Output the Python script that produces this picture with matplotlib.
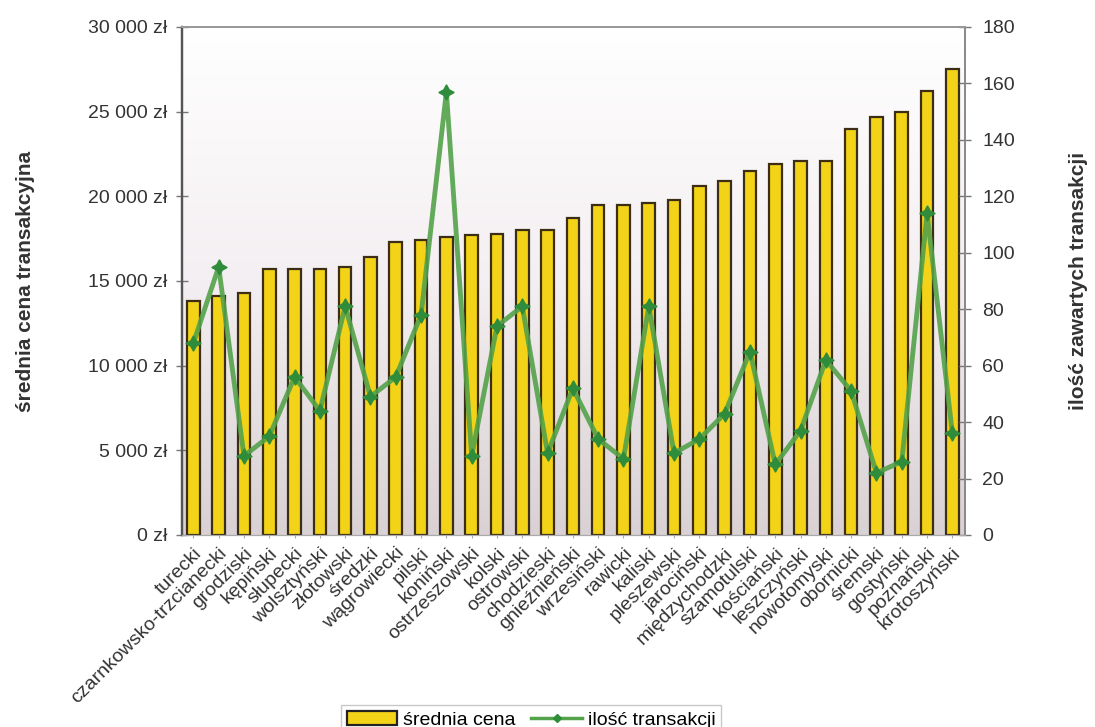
import numpy as np
import matplotlib
matplotlib.use("Agg")
import matplotlib.pyplot as plt
from matplotlib.lines import Line2D
from matplotlib.patches import Patch
from matplotlib.colors import LinearSegmentedColormap
from matplotlib.transforms import ScaledTranslation

plt.rcParams['font.family'] = ['Liberation Sans', 'DejaVu Sans']

# powiaty posortowane wg średniej ceny
powiaty = ['turecki', 'czarnkowsko-trzcianecki', 'grodziski', 'kępiński', 'słupecki',
           'wolsztyński', 'złotowski', 'średzki', 'wągrowiecki', 'pilski', 'koniński',
           'ostrzeszowski', 'kolski', 'ostrowski', 'chodzieski', 'gnieźnieński',
           'wrzesiński', 'rawicki', 'kaliski', 'pleszewski', 'jarociński',
           'międzychodzki', 'szamotulski', 'kościański', 'leszczyński', 'nowotomyski',
           'obornicki', 'śremski', 'gostyński', 'poznański', 'krotoszyński']
srednia_cena = [13800, 14100, 14300, 15700, 15700, 15700, 15800, 16400, 17300, 17400,
                17600, 17700, 17800, 18000, 18000, 18700, 19500, 19500, 19600, 19800,
                20600, 20900, 21500, 21900, 22100, 22100, 24000, 24700, 25000, 26200,
                27500]
ilosc_transakcji = [68, 95, 28, 35, 56, 44, 81, 49, 56, 78, 157, 28, 74, 81, 29, 52,
                    34, 27, 81, 29, 34, 43, 65, 25, 37, 62, 51, 22, 26, 114, 36]
cena_ticks = [0, 5000, 10000, 15000, 20000, 25000, 30000]
ilosc_ticks = list(range(0, 181, 20))

x = np.arange(len(powiaty))

fig = plt.figure(figsize=(10.95, 7.27), dpi=100)
ax = fig.add_axes([0.1662, 0.2641, 0.7151, 0.6988])

# tło wykresu: biały u góry, szaroróżowy u dołu
grad = LinearSegmentedColormap.from_list('tlo', ['#ffffff', '#f4eff2', '#d9d1d3'])
ax.imshow(np.linspace(0, 1, 256).reshape(-1, 1), cmap=grad, aspect='auto',
          extent=[0, 1, 0, 1], transform=ax.transAxes, zorder=0)

ax.bar(x, srednia_cena, width=0.5, color='#f3d318', edgecolor='#3b2e14',
       linewidth=1.6, zorder=2)
ax.set_xlim(-0.45, len(powiaty) - 0.5)
ax.set_ylim(0, 30000)
ax.set_yticks(cena_ticks)
ax.set_yticklabels([f'{v:,} zł'.replace(',', ' ') for v in cena_ticks], fontsize=14,
                   color='#333333')
ax.set_xticks(x)
ax.set_xticklabels(powiaty, rotation=45, ha='right', rotation_mode='anchor',
                   fontsize=14, color='#333333')
przesun = ScaledTranslation(-6 / 72, 0, fig.dpi_scale_trans)
for lbl in ax.get_xticklabels():
    lbl.set_transform(lbl.get_transform() + przesun)
ax.tick_params(axis='y', direction='inout', length=9, width=1, color='#777777', pad=6)
ax.tick_params(axis='x', direction='inout', length=4, color='#aaaaaa', pad=5)
ax.set_ylabel('średnia cena transakcyjna', fontsize=15, fontweight='bold',
              color='#333333', labelpad=38)

ax2 = ax.twinx()
ax2.plot(x, ilosc_transakcji, color='#54a24a', linewidth=3.5, alpha=0.9, zorder=3)
ax2.plot(x, ilosc_transakcji, linestyle='none', marker=(4, 1, 0), markersize=11,
         color='#2f8c3a', zorder=4)
ax2.set_ylim(0, 180)
ax2.set_yticks(ilosc_ticks)
ax2.set_yticklabels([str(v) for v in ilosc_ticks], fontsize=14, color='#333333')
ax2.tick_params(axis='y', direction='inout', length=9, width=1, color='#777777', pad=8)
ax2.set_ylabel('ilość zawartych transakcji', fontsize=15, fontweight='bold',
               color='#333333', labelpad=39)

for a in (ax, ax2):
    a.spines['left'].set_color('#555555')
    a.spines['left'].set_linewidth(1.6)
    a.spines['right'].set_color('#888888')
    a.spines['right'].set_linewidth(1.2)
    a.spines['bottom'].set_color('#aaaaaa')
    a.spines['top'].set_color('#999999')
    a.spines['top'].set_linestyle((0, (2, 1)))
    a.spines['top'].set_linewidth(1.4)

uchwyty = [Patch(facecolor='#f3d318', edgecolor='#222222', linewidth=1.6),
           Line2D([0], [0], color='#54a24a', linewidth=2.5, marker='D', markersize=4,
                  markerfacecolor='#2f8c3a', markeredgecolor='#2f8c3a')]
leg = fig.legend(uchwyty, ['średnia cena', 'ilość transakcji'], loc='upper center',
                 bbox_to_anchor=(0.485, 0.043), ncol=2, fontsize=14, frameon=True,
                 fancybox=False, edgecolor='#bbbbbb', handlelength=2.6,
                 handletextpad=0.3, columnspacing=0.8, borderpad=0.3)

fig.savefig('out.png', dpi=100)
